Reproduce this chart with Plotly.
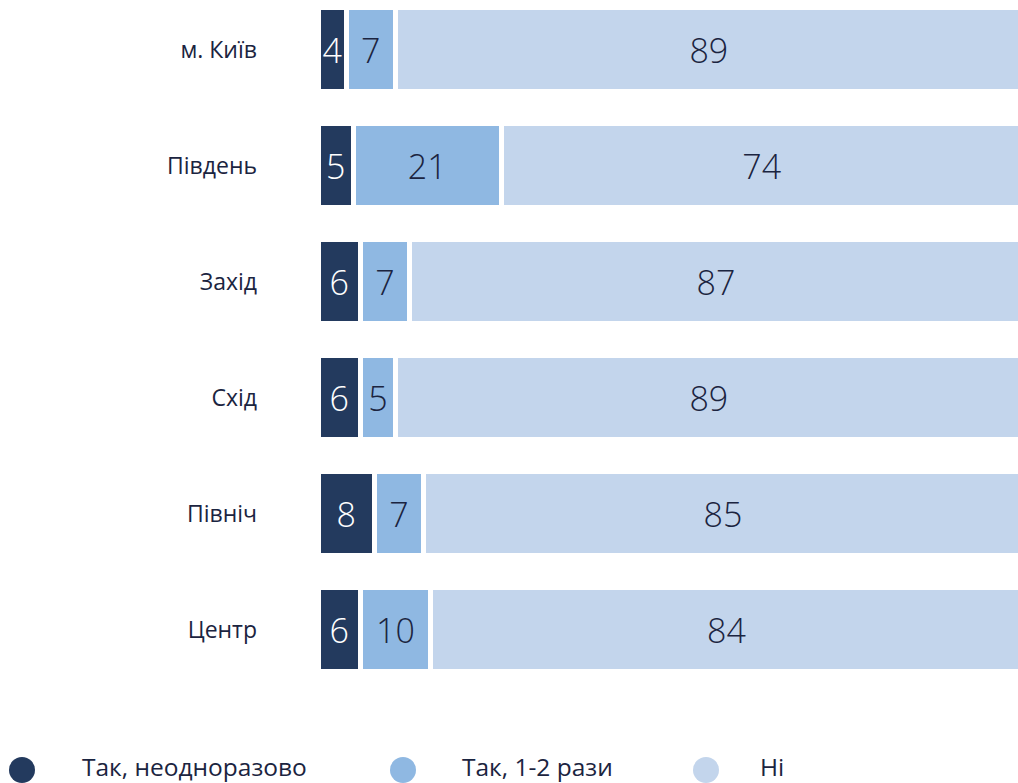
import plotly.graph_objects as go

categories = ["м. Київ", "Південь", "Захід", "Схід", "Північ", "Центр"]
series_names = ["Так, неодноразово", "Так, 1-2 рази", "Ні"]
yes_many = [4, 5, 6, 6, 8, 6]
yes_few = [7, 21, 7, 5, 7, 10]
no_vals = [89, 74, 87, 89, 85, 84]

colors = ["#233a5e", "#8fb8e2", "#c3d5ec"]
text_colors = ["#ffffff", "#1b2440", "#1b2440"]
FONT = "Open Sans"

W, H = 1018, 783
ML, MR, MT, MB = 318, 0, 0, 83
PW = W - ML - MR
PH = H - MT - MB
step = 116.0
top_center = 49.5
y0 = -top_center / step
y1 = y0 + PH / step

ypos = list(range(len(categories)))

fig = go.Figure()
for name, vals, col, tcol in zip(series_names, [yes_many, yes_few, no_vals], colors, text_colors):
    fig.add_trace(go.Bar(
        name=name, y=ypos, x=vals, orientation="h",
        marker=dict(color=col, line=dict(color="white", width=5)),
        width=0.724,
        text=[str(v) for v in vals], textposition="inside",
        insidetextanchor="middle", constraintext="none",
        textfont=dict(family=FONT, size=34, color=tcol, weight=300),
        showlegend=False, hoverinfo="skip", cliponaxis=True,
    ))

# manual legend (page pixel positions)
legend_items = [(22, 80), (403, 460), (706, 758)]
ly = 770
r = 13
for (cx, tx), name, col in zip(legend_items, series_names, colors):
    fig.add_shape(type="circle", xref="paper", yref="paper",
                  x0=(cx - r - ML) / PW, x1=(cx + r - ML) / PW,
                  y0=(PH - (ly - r)) / PH, y1=(PH - (ly + r)) / PH,
                  fillcolor=col, line=dict(width=0))
    fig.add_annotation(xref="paper", yref="paper",
                       x=(tx - ML) / PW, y=(PH - 766) / PH,
                       text=name, showarrow=False, xanchor="left", yanchor="middle",
                       font=dict(family=FONT, size=24.5, color="#1b2440"))

fig.update_layout(
    width=W, height=H,
    margin=dict(l=ML, r=MR, t=MT, b=MB, autoexpand=False),
    barmode="stack",
    plot_bgcolor="white", paper_bgcolor="white",
    xaxis=dict(range=[0, 99.4], visible=False, automargin=False),
    yaxis=dict(range=[y1, y0], tickvals=ypos, ticktext=categories,
               showgrid=False, zeroline=False, showline=False, ticks="",
               ticklabelstandoff=60, automargin=False,
               tickfont=dict(family=FONT, size=23, color="#1b2440")),
    showlegend=False,
)

fig.write_html("out.html", config={"displayModeBar": False},
               post_script="document.body.style.margin='0';document.body.style.overflow='hidden';")
